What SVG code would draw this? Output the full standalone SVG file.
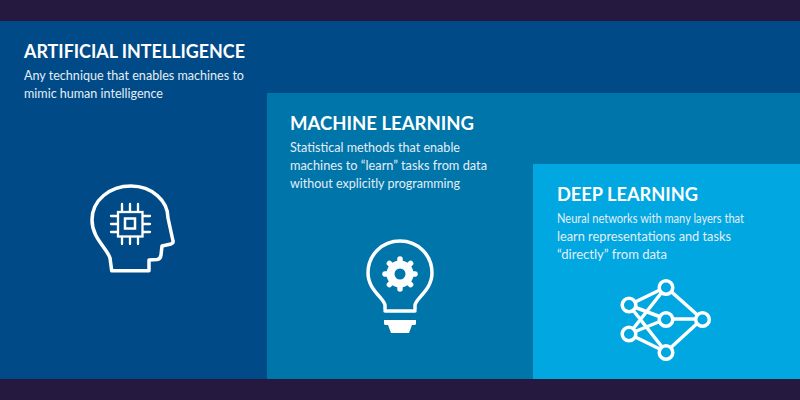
<svg xmlns="http://www.w3.org/2000/svg" width="800" height="400" viewBox="0 0 800 400">
<style>
.t{font-family:"Lato","Liberation Sans",sans-serif;font-weight:700;font-size:19px;fill:#fff}
.d{font-family:"Lato","Liberation Sans",sans-serif;font-size:12.5px;fill:#e3eef6}
.i{fill:none;stroke:#fff;stroke-width:3.5;stroke-linejoin:round;stroke-linecap:round}
.j{fill:none;stroke:#fff;stroke-width:2.3;stroke-linecap:round}
</style>
<rect width="800" height="400" fill="#25193f"/>
<g id="ai">
<rect x="0" y="21" width="800" height="358" fill="#004b87"/>
<text class="t" x="24" y="58" textLength="221" lengthAdjust="spacingAndGlyphs">ARTIFICIAL INTELLIGENCE</text>
<text class="d" x="24" y="80" textLength="220" lengthAdjust="spacingAndGlyphs">Any technique that enables machines to</text>
<text class="d" x="24" y="98" textLength="139" lengthAdjust="spacingAndGlyphs">mimic human intelligence</text>
<path class="i" d="M111.7 270.7L110 258C107 248 92 238 92 220C92 200 110 186 131 186C152 186 168 201 168 218L173 241Q173.500 243 171 244L162 246L161 255Q160.500 259 157 259.500L149 260L149 270.700Z"/>
<g class="j">
<rect x="118" y="212" width="24.500" height="24.500"/>
<rect x="125" y="218.500" width="10" height="10" stroke-width="2.500"/>
<path d="M122 204V211M130 204V211M138 204V211M122 237V244M130 237V244M138 237V244M111 216H117M111 224H117M111 232H117M143 216H150M143 224H150M143 232H150"/>
</g>
</g>
<g id="ml">
<rect x="267" y="93" width="533" height="286" fill="#0075a9"/>
<text class="t" x="290" y="130" textLength="184" lengthAdjust="spacingAndGlyphs">MACHINE LEARNING</text>
<text class="d" x="290" y="152" textLength="170" lengthAdjust="spacingAndGlyphs">Statistical methods that enable</text>
<text class="d" x="290" y="170" textLength="197" lengthAdjust="spacingAndGlyphs">machines to “learn” tasks from data</text>
<text class="d" x="290" y="188" textLength="170" lengthAdjust="spacingAndGlyphs">without explicitly programming</text>
<path class="i" d="M385 309L385 305C384 298 368 290 368 273C368 255 382 241 400 241C418 241 432 255 432 273C432 290 416 298 415 305L415 309"/>
<path class="i" d="M385 311H415" stroke-width="4"/>
<path fill="#fff" d="M384 320H416V324Q416 325 414 325H412L409 333H391L388 325H386Q384 325 384 324Z"/>
<g fill="#fff"><circle cx="400" cy="274" r="13.500"/>
<g id="teeth" stroke="#fff" stroke-width="5.500" stroke-linecap="round"><path d="M400 259V289M385 274H415M389.400 263.400L410.600 284.600M410.600 263.400L389.400 284.600"/></g></g>
<circle cx="400" cy="274" r="5.500" fill="#0075a9"/>
</g>
<g id="dl">
<rect x="533" y="164" width="267" height="215" fill="#00a7e1"/>
<text class="t" x="557" y="201" textLength="141" lengthAdjust="spacingAndGlyphs">DEEP LEARNING</text>
<text class="d" x="557" y="223" textLength="187" lengthAdjust="spacingAndGlyphs">Neural networks with many layers that</text>
<text class="d" x="557" y="241" textLength="174" lengthAdjust="spacingAndGlyphs">learn representations and tasks</text>
<text class="d" x="557" y="259" textLength="110" lengthAdjust="spacingAndGlyphs">“directly” from data</text>
<path class="i" d="M629 305L666 287M629 305L666 319M629 305L666 352M629 334L666 287M629 334L666 319M629 334L666 352M666 287L702 319M666 319L702 319M666 352L702 319"/>
<g class="i" style="fill:#00a7e1">
<circle cx="666" cy="287.500" r="6.800"/><circle cx="629" cy="305" r="6.800"/><circle cx="629" cy="334" r="6.800"/><circle cx="666" cy="319.500" r="6.800"/><circle cx="666" cy="352.500" r="6.800"/><circle cx="702.500" cy="319.500" r="6.800"/>
</g>
</g>
</svg>
